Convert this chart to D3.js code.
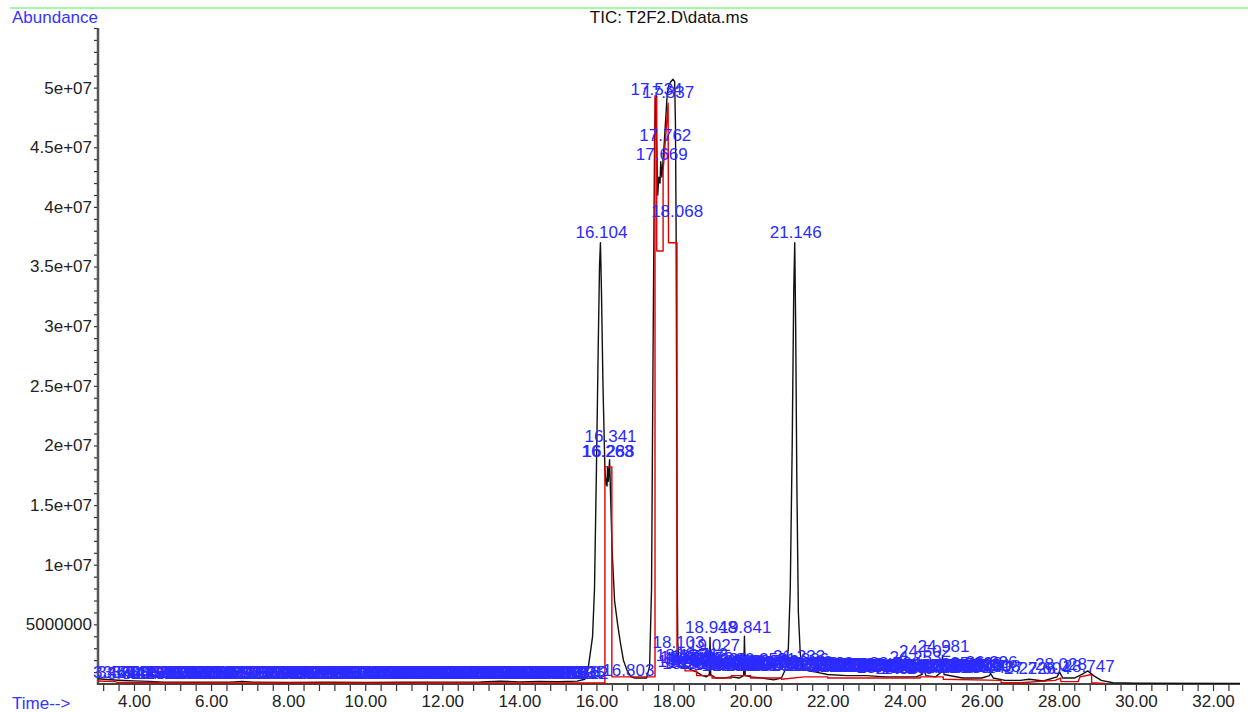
<!DOCTYPE html>
<html>
<head>
<meta charset="utf-8">
<script src="https://cdn.jsdelivr.net/npm/d3@7"></script>
<style>
	body { margin: 0; background: #fff; }
	svg { display: block; font-family: "Liberation Sans", Arial, sans-serif; }
	.axis text { font-size: 17px; fill: #222; }
	.axis line { stroke: #333; stroke-width: 1.2; }
	.axis path { display: none; }
	.peak { font-size: 17px; fill: #2b2bff; text-anchor: middle; }
	.trace { fill: none; stroke-width: 1.4; stroke-linejoin: round; }
</style>
</head>
<body>
<div id="chart"></div>
<script>
// TIC trace, [minutes, abundance]
var tic = [
	[3.07,4.4e5],[3.3,3.8e5],[3.6,3.2e5],[4.0,2.6e5],[4.4,2.2e5],[4.8,1.6e5],[5.5,1.5e5],[6.5,1.6e5],
	[6.8,2.2e5],[7.1,1.6e5],[8.0,1.4e5],[9.0,1.5e5],[10.0,1.4e5],[11.0,1.5e5],[12.0,1.6e5],[13.0,1.7e5],
	[13.5,2.3e5],[14.0,1.8e5],[14.5,2.2e5],[15.0,1.9e5],[15.5,2.4e5],[15.7,4e5],[15.78,1.2e6],[15.85,2.8e6],
	[15.9,4e6],[15.95,8e6],[16.0,1.8e7],[16.05,2.9e7],[16.08,3.5e7],[16.104,3.7e7],[16.13,3.3e7],[16.17,2.5e7],
	[16.22,1.8e7],[16.25,1.67e7],[16.263,1.72e7],[16.275,1.66e7],[16.288,1.82e7],[16.31,1.7e7],[16.341,1.88e7],
	[16.37,1.55e7],[16.41,1.1e7],[16.47,7e6],[16.55,5e6],[16.62,3.5e6],[16.7,2e6],[16.8,1.1e6],[16.9,6e5],
	[17.0,5e5],[17.3,5e5],[17.38,1.5e6],[17.43,8e6],[17.47,2.8e7],[17.51,4.6e7],[17.534,4.92e7],[17.56,4.6e7],
	[17.59,4.1e7],[17.62,4.25e7],[17.65,4.2e7],[17.669,4.38e7],[17.7,4.25e7],[17.73,4.4e7],[17.762,4.55e7],
	[17.8,4.75e7],[17.837,4.95e7],[17.88,5.02e7],[17.93,5.05e7],[17.987,5.07e7],[18.03,5.05e7],[18.05,4.7e7],
	[18.068,3.8e7],[18.08,2.6e7],[18.095,1e7],[18.11,3.5e6],[18.14,2e6],[18.25,1.6e6],[18.35,1.4e6],
	[18.45,1.2e6],[18.6,1e6],[18.75,7e5],[18.85,6e5],[18.93,8e5],[18.948,3.9e6],[18.965,8e5],[19.1,5e5],
	[19.3,5e5],[19.5,6e5],[19.7,5e5],[19.82,7e5],[19.841,4e6],[19.86,7e5],[20.0,6e5],[20.3,5e5],[20.6,3.5e5],
	[20.8,5e5],[20.9,1.2e6],[20.98,3e6],[21.03,8e6],[21.08,2e7],[21.12,3.3e7],[21.146,3.7e7],[21.17,3e7],
	[21.2,1.7e7],[21.24,6e6],[21.29,2.5e6],[21.35,1.5e6],[21.5,1.1e6],[21.7,1e6],[22.0,8e5],[22.5,7e5],
	[23.0,7e5],[23.5,6e5],[24.0,6e5],[24.3,6e5],[24.45,8e5],[24.5,1.2e6],[24.55,7e5],[24.8,6e5],[24.95,1e6],
	[24.981,2.4e6],[25.02,8e5],[25.5,5e5],[26.0,5e5],[26.2,7e5],[26.226,9e5],[26.3,5e5],[26.6,3e5],[27.0,3e5],
	[27.23,4e5],[27.6,2.5e5],[27.95,6e5],[28.02,1e6],[28.1,5e5],[28.4,5e5],[28.6,8e5],[28.75,1.1e6],
	[28.9,7e5],[29.1,3e5],[29.4,1e5],[30.0,6e4],[32.7,5e4]
];

// integration baseline (red), [minutes, abundance]
var integ = [
	[3.07,2.5e5],[3.5,2e5],[3.6,1.2e5],[4.6,1.2e5],[4.7,8e4],[16.22,8e4],[16.22,1.82e7],[16.4,1.82e7],
	[16.4,6e5],[17.52,6e5],[17.52,4.93e7],[17.565,4.93e7],[17.565,3.63e7],[17.73,3.63e7],[17.73,4.3e7],
	[17.86,4.87e7],[17.87,3.7e7],[18.09,3.7e7],[18.09,1.5e6],[18.3,1.5e6],[18.3,1.1e6],[18.6,1.1e6],
	[18.6,7e5],[19.0,7e5],[19.0,5e5],[19.5,5e5],[19.5,7e5],[20.0,7e5],[20.0,5e5],[20.8,5e5],[20.8,4e5],
	[21.4,6e5],[22.0,6e5],[22.0,5e5],[24.4,5e5],[24.4,6e5],[25.0,6e5],[25.0,4e5],[26.5,3e5],[26.5,1e5],
	[27.0,1e5],[27.9,3e5],[28.05,5e5],[28.05,2e5],[28.5,2e5],[28.55,6e5],[28.85,8e5],[28.85,1e5],[29.2,5e4]
];

// peak labels, [retention time, label height]
var peaks = [
	[3.462,2.4e5],[3.575,2.2e5],[3.714,2.3e5],[3.826,2.0e5],[3.947,2.2e5],[4.088,2.1e5],[4.213,1.9e5],
	[4.352,2.2e5],[4.461,2.0e5],[4.589,2.1e5],[4.702,1.9e5],[4.815,2.2e5],[4.904,2.0e5],[5.013,2.3e5],
	[5.108,1.9e5],[5.194,2.1e5],[5.287,2.0e5],[5.368,2.2e5],[5.452,1.9e5],[5.531,2.1e5],[5.617,2.0e5],
	[5.693,2.2e5],[5.776,2.1e5],[5.858,1.9e5],[5.934,2.2e5],[6.012,2.0e5],[6.097,2.1e5],[6.176,1.9e5],
	[6.253,2.2e5],[6.331,2.0e5],[6.415,2.1e5],[6.494,2.3e5],[6.572,2.0e5],[6.656,2.2e5],[6.733,1.9e5],
	[6.812,2.1e5],[6.895,2.0e5],[6.973,2.2e5],[7.054,1.9e5],[7.132,2.1e5],[7.215,2.0e5],[7.293,2.2e5],
	[7.374,2.1e5],[7.452,1.9e5],[7.534,2.2e5],[7.613,2.0e5],[7.694,2.1e5],[7.772,1.9e5],[7.855,2.2e5],
	[7.933,2.0e5],[8.014,2.1e5],[8.092,2.3e5],[8.175,2.0e5],[8.253,2.2e5],[8.336,1.9e5],[8.414,2.1e5],
	[8.495,2.0e5],[8.573,2.2e5],[8.656,1.9e5],[8.734,2.1e5],[8.815,2.0e5],[8.893,2.2e5],[8.976,2.1e5],
	[9.054,1.9e5],[9.135,2.2e5],[9.213,2.0e5],[9.296,2.1e5],[9.374,1.9e5],[9.455,2.2e5],[9.533,2.0e5],
	[9.616,2.1e5],[9.694,2.3e5],[9.775,2.0e5],[9.853,2.2e5],[9.936,1.9e5],[10.014,2.1e5],[10.095,2.0e5],
	[10.173,2.2e5],[10.256,1.9e5],[10.334,2.1e5],[10.415,2.0e5],[10.493,2.2e5],[10.576,2.1e5],[10.654,1.9e5],
	[10.735,2.2e5],[10.813,2.0e5],[10.896,2.1e5],[10.974,1.9e5],[11.055,2.2e5],[11.133,2.0e5],[11.216,2.1e5],
	[11.294,2.3e5],[11.375,2.0e5],[11.453,2.2e5],[11.536,1.9e5],[11.614,2.1e5],[11.695,2.0e5],[11.773,2.2e5],
	[11.856,1.9e5],[11.934,2.1e5],[12.015,2.0e5],[12.093,2.2e5],[12.176,2.1e5],[12.254,1.9e5],[12.335,2.2e5],
	[12.413,2.0e5],[12.496,2.1e5],[12.574,1.9e5],[12.655,2.2e5],[12.733,2.0e5],[12.816,2.1e5],[12.894,2.3e5],
	[12.975,2.0e5],[13.053,2.2e5],[13.136,1.9e5],[13.214,2.1e5],[13.295,2.0e5],[13.373,2.2e5],[13.456,1.9e5],
	[13.534,2.1e5],[13.615,2.0e5],[13.693,2.2e5],[13.776,2.1e5],[13.854,1.9e5],[13.935,2.2e5],[14.013,2.0e5],
	[14.096,2.1e5],[14.174,1.9e5],[14.255,2.2e5],[14.333,2.0e5],[14.416,2.1e5],[14.494,2.3e5],[14.575,2.0e5],
	[14.653,2.2e5],[14.736,1.9e5],[14.814,2.1e5],[14.895,2.0e5],[14.973,2.2e5],[15.056,1.9e5],[15.134,2.1e5],
	[15.215,2.0e5],[15.293,2.2e5],[15.376,2.1e5],[15.454,1.9e5],[15.535,2.2e5],[15.612,2.0e5],
	[16.104,3.71e7],[16.263,1.88e7],[16.288,1.88e7],[16.341,2.0e7],[16.803,4.2e5],
	[17.534,4.91e7],[17.837,4.89e7],[17.762,4.53e7],[17.669,4.37e7],[18.068,3.89e7],
	[18.103,2.77e6],[18.187,1.7e6],[18.236,1.2e6],[18.301,1.5e6],[18.354,1.0e6],[18.412,1.4e6],[18.478,1.1e6],
	[18.533,1.3e6],[18.597,1.6e6],[18.655,1.2e6],[18.712,1.8e6],[18.789,1.0e6],[18.853,1.4e6],[18.948,4.02e6],
	[19.027,2.51e6],[19.106,1.2e6],[19.163,0.9e6],[19.229,1.3e6],[19.302,1.0e6],[19.378,0.8e6],[19.445,1.1e6],
	[19.512,0.9e6],[19.588,1.2e6],[19.657,0.8e6],[19.724,1.0e6],[19.841,4.02e6],[19.903,1.1e6],[19.968,0.8e6],
	[20.034,1.2e6],[20.112,0.9e6],[20.187,1.0e6],[20.256,1.3e6],[20.323,0.8e6],[20.401,1.1e6],[20.478,0.9e6],
	[20.553,1.2e6],[20.621,0.8e6],[20.702,1.0e6],[20.786,1.1e6],[21.146,3.71e7],[21.233,1.6e6],[21.336,1.3e6],
	[21.433,1.1e6],[21.502,0.9e6],[21.578,1.0e6],[21.655,0.8e6],[21.736,1.0e6],[21.812,0.9e6],[21.893,0.8e6],
	[21.968,1.0e6],[22.045,0.8e6],[22.128,0.9e6],[22.207,0.75e6],[22.284,0.9e6],[22.366,0.8e6],[22.441,0.75e6],
	[22.523,0.9e6],[22.604,0.8e6],[22.687,0.75e6],[22.763,0.9e6],[22.846,0.8e6],[22.925,0.75e6],[23.006,0.85e6],
	[23.088,0.8e6],[23.165,0.75e6],[23.247,0.9e6],[23.324,0.8e6],[23.408,0.7e6],[23.486,0.85e6],[23.567,0.75e6],
	[23.645,0.8e6],[23.728,1.0e6],[23.806,0.75e6],[23.887,0.6e6],[23.965,0.8e6],[24.046,0.6e6],[24.128,0.75e6],
	[24.253,1.5e6],[24.336,0.7e6],[24.417,0.8e6],[24.502,2.01e6],[24.664,0.8e6],[24.748,0.7e6],[24.823,0.8e6],
	[24.981,2.43e6],[25.104,0.8e6],[25.187,0.7e6],[25.266,0.85e6],[25.348,0.75e6],[25.427,0.8e6],[25.509,0.7e6],
	[25.588,0.9e6],[25.667,0.75e6],[25.749,0.8e6],[25.828,1.0e6],[25.907,0.75e6],[26.061,0.8e6],[26.143,0.7e6],
	[26.226,1.09e6],[26.308,0.75e6],[27.226,0.6e6],[27.604,0.6e6],[28.028,0.92e6],[28.747,0.75e6]
];

var yTickLabels = ["5000000", "1e+07", "1.5e+07", "2e+07", "2.5e+07", "3e+07", "3.5e+07", "4e+07", "4.5e+07", "5e+07"];
var xTickLabels = ["4.00", "6.00", "8.00", "10.00", "12.00", "14.00", "16.00", "18.00", "20.00", "22.00", "24.00", "26.00", "28.00", "30.00", "32.00"];

var width = 1248,
	height = 712;

var svg = d3.select("#chart").append("svg")
	.attr("width", width)
	.attr("height", height);

var x = d3.scaleLinear().domain([3.066, 32.7]).range([98, 1240]);
var y = d3.scaleLinear().domain([0, 5.5e7]).range([684, 28]);

// green top rule
svg.append("line")
	.attr("x1", 10).attr("x2", width)
	.attr("y1", 8).attr("y2", 8)
	.style("stroke", "#86f486")
	.style("stroke-width", 1.5);

// title and axis captions
svg.append("text")
	.attr("x", 669).attr("y", 23)
	.attr("text-anchor", "middle")
	.style("font-size", "17px").style("fill", "#111")
	.text("TIC: T2F2.D\\data.ms");

svg.append("text")
	.attr("x", 12).attr("y", 23)
	.style("font-size", "17px").style("fill", "#3535ff")
	.text("Abundance");

svg.append("text")
	.attr("x", 12).attr("y", 709)
	.style("font-size", "17px").style("fill", "#3535ff")
	.text("Time-->");

// y axis: minor ticks every 1e6, labels every 5e6
var yTicks = d3.range(1, 56).map(function(d) { return d * 1e6; });
var yAxis = d3.axisLeft(y)
	.tickValues(yTicks)
	.tickSize(4)
	.tickPadding(2)
	.tickFormat(function(d) {
		var k = Math.round(d / 1e6);
		return k % 5 === 0 ? yTickLabels[k / 5 - 1] : "";
	});

svg.append("g")
	.attr("class", "y axis")
	.attr("transform", "translate(98,0)")
	.call(yAxis);

// x axis: ticks every 0.4 min, labels every 2 min
var xTicks = d3.range(8, 82).map(function(d) { return d * 0.4; });
var xAxis = d3.axisBottom(x)
	.tickValues(xTicks)
	.tickSize(7)
	.tickPadding(4)
	.tickFormat(function(d) {
		var k = Math.round(d * 10);
		return k % 20 === 0 ? xTickLabels[k / 20 - 2] : "";
	});

svg.append("g")
	.attr("class", "x axis")
	.attr("transform", "translate(0,684)")
	.call(xAxis);

svg.append("line")
	.attr("x1", 98).attr("x2", 98)
	.attr("y1", 28).attr("y2", 685)
	.style("stroke", "#555")
	.style("stroke-width", 2.5);

svg.append("line")
	.attr("x1", 97).attr("x2", 1240)
	.attr("y1", 684).attr("y2", 684)
	.style("stroke", "#444")
	.style("stroke-width", 2);

var line = d3.line()
	.x(function(d) { return x(d[0]); })
	.y(function(d) { return y(d[1]); });

svg.append("path")
	.attr("class", "trace")
	.attr("d", line(tic))
	.style("stroke", "#111");

svg.append("path")
	.attr("class", "trace")
	.attr("d", line(integ))
	.style("stroke", "#e00000");

svg.selectAll(".peak")
	.data(peaks)
	.enter()
	.append("text")
	.attr("class", "peak")
	.attr("x", function(d) { return x(d[0]) + 1; })
	.attr("y", function(d) { return y(d[1]) - 3; })
	.text(function(d) { return d[0].toFixed(3); });
</script>
</body>
</html>
